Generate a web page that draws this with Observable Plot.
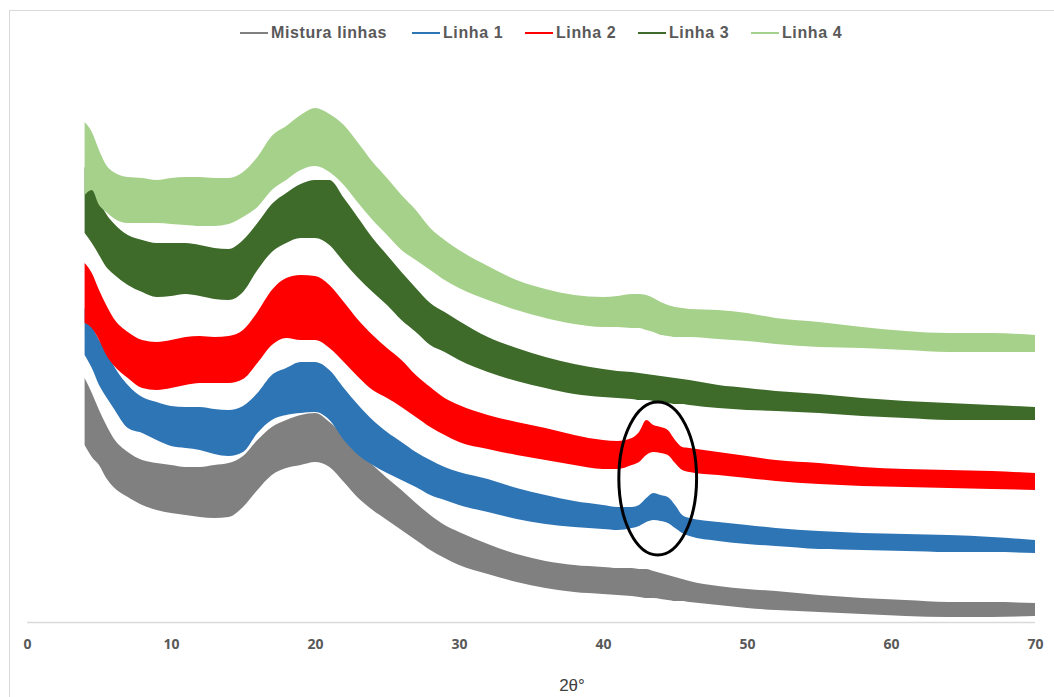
<!DOCTYPE html>
<html>
<head>
<meta charset="utf-8">
<script src="https://cdn.jsdelivr.net/npm/d3@7"></script>
<script src="https://cdn.jsdelivr.net/npm/@observablehq/plot@0.6"></script>
<style>
  body { margin: 0; background: #fff; font-family: "Liberation Sans", Arial, sans-serif; }
  #wrap { position: relative; width: 1054px; height: 697px; overflow: hidden; background: #fff; }
  #frame { position: absolute; left: 9px; top: 10px; width: 1200px; height: 900px;
           border-left: 1.5px solid #d9d9d9; border-top: 1.5px solid #d9d9d9; pointer-events: none; }
  #legend { position: absolute; top: 22px; left: 0; width: 1054px; height: 22px;
            font-size: 16px; font-weight: bold; color: #595959; white-space: nowrap; letter-spacing: 0.6px; }
  #legend .item { position: absolute; top: 0; height: 22px; display: flex; align-items: center; }
  #legend .sw { display: inline-block; width: 28px; height: 2.5px; margin-right: 3px; }
  #chart { position: absolute; top: 60px; left: 0; }
  #xtitle { position: absolute; top: 676px; left: 532px; width: 80px; text-align: center;
            font-size: 17px; color: #404040; }
</style>
</head>
<body>
<div id="wrap">
  <div id="frame"></div>
  <div id="legend"></div>
  <div id="chart"></div>
  <div id="xtitle">2θ°</div>
</div>
<script>
// 2θ positions at which the envelope of each noisy trace was read
const twoTheta = [4, 4.5, 5, 5.5, 6, 7, 8, 9, 10, 11, 12, 13, 14, 15, 16, 17, 18, 19, 20, 21, 22, 23, 24, 25, 26, 27, 28, 29, 30, 32, 34, 36, 38, 40, 41, 42, 42.5, 43, 43.5, 44, 44.5, 45, 45.5, 46, 48, 50, 52, 55, 58, 61, 64, 67, 70];

// Intensity (a.u.) upper / lower envelope of each trace
const misturaHi = [244, 229, 212, 197, 184, 170, 162, 159, 157, 155, 155, 157, 159, 166, 182, 195, 202, 207, 209, 200, 186, 170, 157, 144, 132, 119, 107, 97, 90, 78, 68, 61, 57, 55, 54, 54, 53, 53, 51, 49, 47, 45, 43, 41, 36, 33, 31, 27, 24, 22, 20, 20, 19];
const misturaLo = [177, 165, 157, 144, 135, 125, 117, 112, 109, 107, 105, 104, 105, 115, 132, 147, 154, 157, 160, 155, 140, 124, 112, 102, 92, 82, 72, 64, 57, 48, 40, 34, 30, 28, 27, 26, 25, 24, 24, 23, 22, 21, 21, 20, 17, 14, 12, 10, 8, 6, 5, 5, 6];

const linha1Hi = [314, 297, 282, 272, 257, 237, 225, 220, 216, 215, 215, 213, 212, 216, 229, 247, 254, 260, 260, 252, 234, 217, 202, 190, 180, 170, 162, 155, 150, 143, 134, 127, 121, 117, 115, 115, 117, 124, 129, 127, 125, 117, 107, 104, 100, 97, 94, 91, 89, 88, 87, 85, 82];
const linha1Lo = [267, 254, 237, 225, 214, 194, 189, 182, 176, 174, 172, 168, 166, 170, 189, 202, 207, 209, 210, 202, 182, 167, 157, 149, 142, 135, 127, 122, 117, 110, 103, 98, 95, 93, 92, 94, 96, 100, 102, 101, 99, 94, 89, 86, 81, 78, 76, 73, 72, 71, 70, 70, 69];

const linha2Hi = [359, 349, 332, 317, 304, 290, 282, 280, 282, 285, 286, 285, 286, 292, 310, 332, 344, 347, 346, 337, 320, 302, 287, 274, 262, 247, 235, 224, 217, 207, 200, 194, 187, 182, 181, 184, 190, 202, 197, 195, 192, 182, 175, 174, 170, 166, 162, 159, 155, 153, 152, 151, 149];
const linha2Lo = [299, 294, 282, 267, 257, 244, 234, 232, 234, 237, 239, 239, 239, 243, 259, 277, 284, 282, 282, 274, 260, 245, 232, 224, 215, 205, 195, 187, 180, 173, 167, 162, 157, 153, 153, 157, 160, 167, 170, 169, 167, 159, 152, 150, 147, 144, 141, 138, 136, 135, 134, 133, 132];

const linha3Hi = [455, 440, 422, 408, 399, 387, 382, 379, 379, 379, 377, 374, 373, 382, 399, 418, 429, 438, 442, 442, 424, 404, 384, 367, 350, 334, 319, 310, 301, 285, 274, 265, 258, 253, 251, 250, 249, 248, 247, 246, 245, 244, 243, 242, 237, 234, 231, 228, 224, 221, 219, 217, 215];
const linha3Lo = [389, 379, 367, 355, 348, 337, 330, 325, 326, 328, 326, 323, 322, 330, 352, 370, 379, 384, 384, 377, 360, 344, 330, 317, 302, 290, 277, 270, 262, 250, 241, 234, 228, 225, 224, 223, 222, 222, 221, 220, 219, 218, 218, 217, 214, 212, 211, 209, 206, 204, 202, 202, 202];

const linha4Hi = [500, 490, 472, 457, 450, 445, 444, 442, 444, 445, 445, 444, 444, 450, 465, 486, 496, 507, 514, 508, 497, 479, 460, 444, 427, 412, 394, 382, 372, 356, 342, 333, 327, 325, 326, 328, 328, 327, 324, 320, 317, 315, 314, 313, 312, 309, 304, 300, 295, 291, 289, 289, 287];
const linha4Lo = [427, 432, 417, 410, 404, 399, 399, 399, 398, 397, 396, 396, 398, 405, 415, 432, 442, 452, 456, 450, 437, 419, 402, 387, 372, 362, 352, 342, 334, 322, 312, 304, 298, 295, 295, 294, 294, 292, 290, 287, 286, 285, 285, 285, 283, 281, 278, 275, 274, 272, 270, 270, 270];

const seriesNames = ["Mistura linhas", "Linha 1", "Linha 2", "Linha 3", "Linha 4"];
const seriesColors = ["#808080", "#2e75b6", "#ff0000", "#3e6b2a", "#a6d18b"];
const seriesHi = [misturaHi, linha1Hi, linha2Hi, linha3Hi, linha4Hi];
const seriesLo = [misturaLo, linha1Lo, linha2Lo, linha3Lo, linha4Lo];
const legendLeft = [240, 412, 525, 638, 751];

const xTicks = [0, 10, 20, 30, 40, 50, 60, 70];

// Highlighted region (ellipse annotation) around the ~44° reflection
const highlightCenter = [43.8, 143.5];
const highlightRadii = [2.7, 76.5];

// Build tidy rows
const rows = [];
seriesNames.forEach((name, s) => {
  twoTheta.forEach((t, i) => rows.push({series: name, t, hi: seriesHi[s][i], lo: seriesLo[s][i]}));
});

// Legend
const legend = document.getElementById("legend");
seriesNames.forEach((name, s) => {
  const item = document.createElement("div");
  item.className = "item";
  item.style.left = legendLeft[s] + "px";
  item.innerHTML = `<span class="sw" style="background:${seriesColors[s]}"></span><span>${name}</span>`;
  legend.appendChild(item);
});

const plot = Plot.plot({
  width: 1054,
  height: 615,
  marginLeft: 27,
  marginRight: 19,
  marginTop: 2,
  marginBottom: 53,
  style: {background: "transparent", color: "#595959"},
  x: {domain: [0, 70]},
  y: {domain: [0, 560], axis: null},
  color: {domain: seriesNames, range: seriesColors},
  marks: [
    Plot.ruleY([0], {stroke: "#d9d9d9", strokeWidth: 1.5}),
    Plot.axisX(xTicks, {tickSize: 0, tickPadding: 17, fontSize: 14, fontWeight: "bold", label: null, fill: "#595959"}),
    ...seriesNames.map((name, s) =>
      Plot.areaY(rows.filter(d => d.series === name), {
        x: "t", y1: "lo", y2: "hi", fill: seriesColors[s], curve: "monotone-x"
      })
    )
  ]
});

const xs = plot.scale("x"), ys = plot.scale("y");
const cx = xs.apply(highlightCenter[0]);
const cy = ys.apply(highlightCenter[1]);
const rx = xs.apply(highlightCenter[0] + highlightRadii[0]) - cx;
const ry = cy - ys.apply(highlightCenter[1] + highlightRadii[1]);
d3.select(plot).append("ellipse")
  .attr("cx", cx).attr("cy", cy).attr("rx", rx).attr("ry", ry)
  .attr("fill", "none").attr("stroke", "#000").attr("stroke-width", 3);

document.getElementById("chart").appendChild(plot);
</script>
</body>
</html>
